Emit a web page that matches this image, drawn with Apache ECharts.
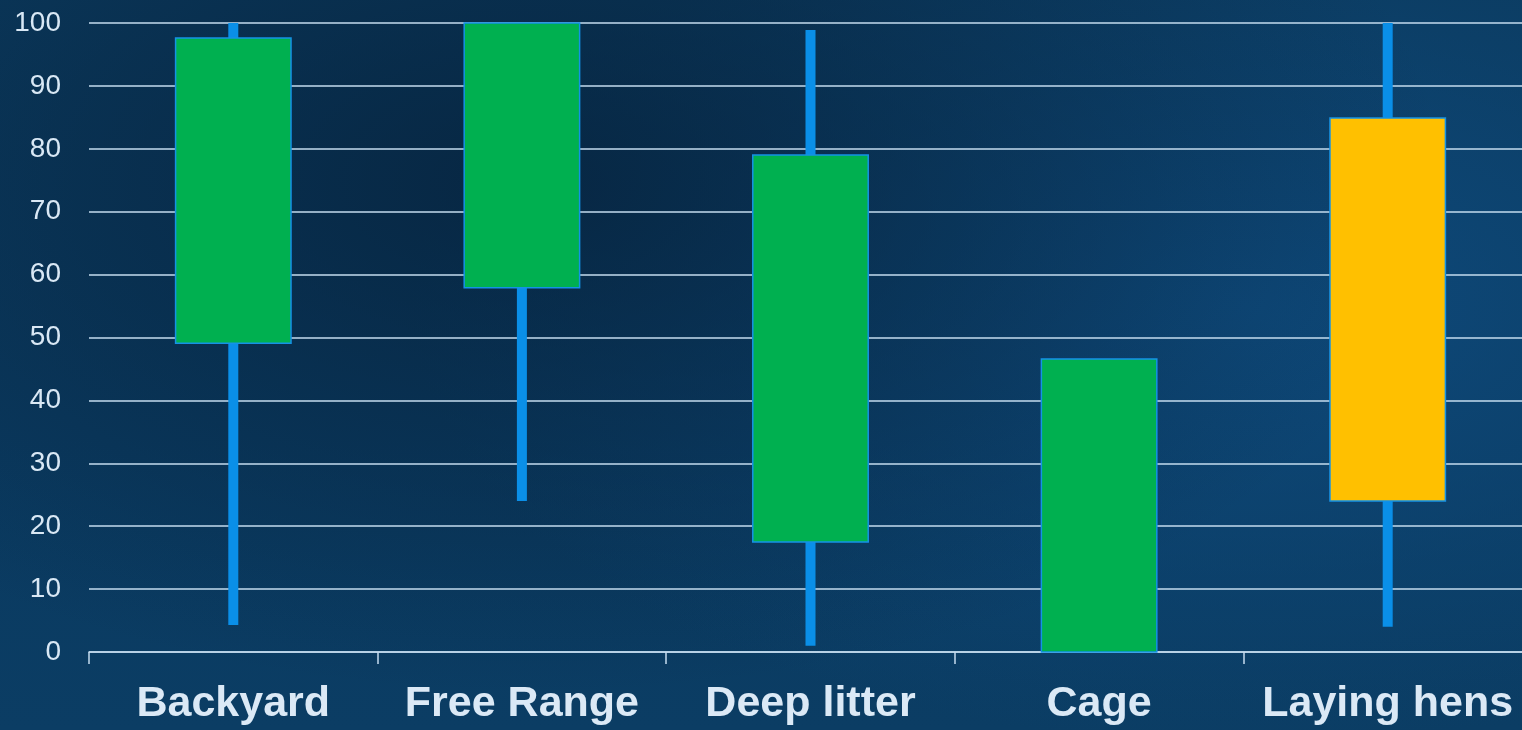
<!DOCTYPE html>
<html>
<head>
<meta charset="utf-8">
<script src="https://cdn.jsdelivr.net/npm/echarts@6/dist/echarts.min.js"></script>
<style>
html,body{margin:0;padding:0;width:1522px;height:730px;overflow:hidden;}
body{background:
 radial-gradient(ellipse 60% 70% at 35% 25%, rgba(6,34,60,0.8) 0%, rgba(6,34,60,0) 100%),
 radial-gradient(ellipse 55% 60% at 82% 42%, #0e497a 0%, rgba(14,73,122,0) 100%),
 linear-gradient(180deg,#0b3a5e 0%,#0a3a60 60%,#0b3d64 100%);}
#main{width:1532px;height:730px;}
</style>
</head>
<body>
<div id="main"></div>
<script>
const categories = ['Backyard', 'Free Range', 'Deep litter', 'Cage', 'Laying hens'];
const whiskerLow = [4.3, 24.0, 1.0, 0, 4.0];
const boxLow = [49.1, 57.9, 17.5, 0, 24.0];
const boxHigh = [97.6, 100, 79.0, 46.6, 84.9];
const whiskerHigh = [100, 100, 98.9, 46.6, 100];
const yTicks = [0, 10, 20, 30, 40, 50, 60, 70, 80, 90, 100];

const chart = echarts.init(document.getElementById('main'), null, {renderer: 'canvas'});
const data = categories.map((c, i) => [i, whiskerLow[i], boxLow[i], boxHigh[i], whiskerHigh[i]]);

chart.setOption({
  backgroundColor: 'transparent',
  animation: false,
  grid: {left: 89, right: 0, top: 23, bottom: 78, containLabel: false},
  xAxis: {
    type: 'category',
    data: categories,
    boundaryGap: true,
    axisLine: {show: true, lineStyle: {color: '#c5dcef', width: 1.5}},
    axisTick: {show: true, length: 12, lineStyle: {color: '#c5dcef', width: 1.5}},
    axisLabel: {
      margin: 31,
      color: '#dbe9f6',
      fontFamily: '"Liberation Sans", Arial, sans-serif',
      fontWeight: 'bold',
      fontSize: 43,
      interval: 0
    }
  },
  yAxis: {
    type: 'value',
    min: yTicks[0],
    max: yTicks[yTicks.length - 1],
    interval: 10,
    axisLine: {show: false},
    axisTick: {show: false},
    splitLine: {show: true, lineStyle: {color: '#c5dcef', width: 1.5}},
    axisLabel: {
      margin: 28,
      color: '#d9e8f5',
      fontFamily: '"Liberation Sans", Arial, sans-serif',
      fontSize: 28
    }
  },
  series: [{
    type: 'custom',
    data: data,
    clip: false,
    encode: {x: 0, y: [1, 2, 3, 4]},
    renderItem: function (params, api) {
      const idx = api.value(0);
      const name = categories[idx];
      const pLow = api.coord([idx, api.value(1)]);
      const pBoxLow = api.coord([idx, api.value(2)]);
      const pBoxHigh = api.coord([idx, api.value(3)]);
      const pHigh = api.coord([idx, api.value(4)]);
      const band = api.size([1, 0])[0];
      const boxW = band * 0.4;
      const wW = 10;
      const fill = name === 'Laying hens' ? '#ffc000' : '#00b050';
      return {
        type: 'group',
        children: [
          {
            type: 'rect',
            shape: {x: pLow[0] - wW / 2, y: pHigh[1], width: wW, height: pLow[1] - pHigh[1]},
            style: {fill: '#0a8fe8'}
          },
          {
            type: 'rect',
            shape: {x: pBoxHigh[0] - boxW / 2, y: pBoxHigh[1], width: boxW, height: pBoxLow[1] - pBoxHigh[1]},
            style: {fill: fill, stroke: '#1592e6', lineWidth: 1.5}
          }
        ]
      };
    }
  }]
});
</script>
</body>
</html>
